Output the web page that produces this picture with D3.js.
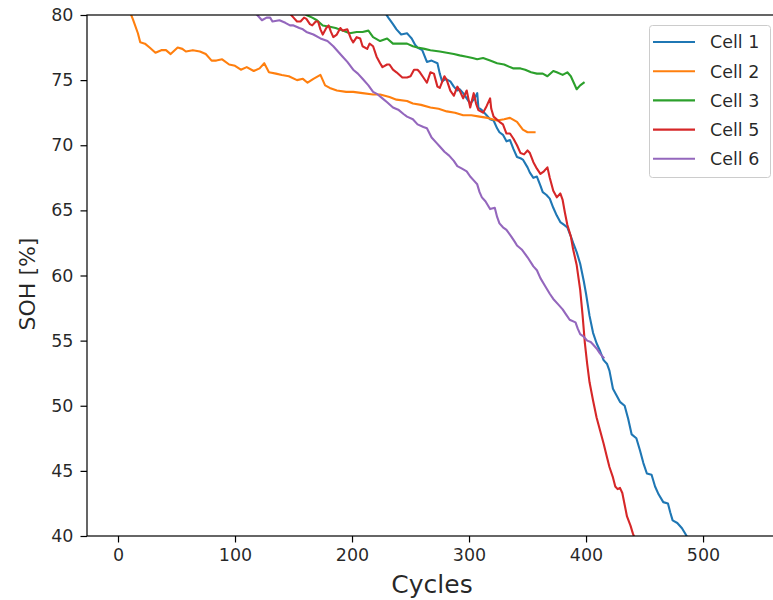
<!DOCTYPE html>
<html>
<head>
<meta charset="utf-8">
<script src="https://cdn.jsdelivr.net/npm/d3@7"></script>
<style>
  html, body { margin: 0; padding: 0; background: #fff; overflow: hidden; }
  svg { display: block; font-family: "DejaVu Sans", sans-serif; }
</style>
</head>
<body>
<svg id="chart" width="773" height="600"></svg>
<script>
// ---- data ----
const seriesNames = ["Cell 1", "Cell 2", "Cell 3", "Cell 5", "Cell 6"];
const seriesColors = ["#1f77b4", "#ff7f0e", "#2ca02c", "#d62728", "#9467bd"];
const xTicks = [0, 100, 200, 300, 400, 500];
const yTicks = [40, 45, 50, 55, 60, 65, 70, 75, 80];

const cell1Cycles = [226,231,235,238,242,247,249,251,254,256,260,264,268,273,275,277,280,284,287,290,292,295,298,301,304,307,308,311,315,318,321,324,326,329,332,335,338,341,344,346,350,352,355,358,361,363,366,369,372,375,378,381,384,387,389,392,395,398,400,403,406,409,412,415,418,420,423,426,429,433,436,439,443,446,449,452,456,459,462,466,470,472,474,478,482,486,490,495];
const cell1Soh = [80.5,79.8,79.3,78.9,78.5,78.6,78.4,78.2,77.7,77.5,77.3,76.4,76.5,76.3,75.5,74.9,75.1,74.9,74.5,74.2,74.3,74.0,73.6,73.2,73.5,74.0,72.9,72.7,72.3,72.0,71.9,71.3,71.0,70.8,70.3,70.4,69.7,69.1,69.0,68.9,68.3,67.9,67.5,67.6,66.9,66.4,66.2,65.9,65.2,64.6,64.1,63.9,63.7,63.0,62.5,61.8,60.9,59.6,58.6,56.9,55.6,54.8,54.2,53.5,53.2,52.7,51.3,50.8,50.3,50.0,49.0,47.8,47.5,46.6,45.6,44.8,44.7,43.8,43.2,42.6,42.5,41.8,41.2,41.0,40.6,40.0,39.5,39.0];

const cell2Cycles = [8,10,13,17,19,23,27,32,37,41,45,51,55,58,64,70,75,80,84,89,95,100,105,110,116,121,125,129,135,140,146,153,158,162,167,173,177,181,187,195,201,209,218,224,232,238,247,252,259,267,274,281,288,295,302,309,316,324,330,335,341,346,350,356];
const cell2Soh = [80.8,80.3,79.6,78.6,77.9,77.8,77.5,77.1,77.3,77.3,77.0,77.5,77.4,77.2,77.3,77.2,77.0,76.5,76.5,76.6,76.2,76.1,75.8,76.0,75.7,75.9,76.3,75.6,75.5,75.4,75.3,75.0,75.1,74.8,75.1,75.4,74.6,74.4,74.2,74.1,74.1,74.0,73.9,73.9,73.7,73.5,73.4,73.2,73.1,72.9,72.8,72.6,72.5,72.3,72.3,72.2,72.1,71.9,72.0,72.1,71.8,71.2,71.0,71.0];

const cell3Cycles = [155,161,166,170,175,181,186,192,198,204,209,214,218,224,230,235,241,247,252,256,262,267,275,281,287,292,298,303,307,312,318,324,330,335,338,344,348,353,358,363,367,372,375,380,384,387,390,392,395,398];
const cell3Soh = [80.5,80.0,79.8,79.6,79.2,79.1,79.0,78.8,78.6,78.7,78.7,78.8,78.3,78.0,78.2,77.8,77.8,77.8,77.6,77.5,77.4,77.3,77.2,77.1,77.0,76.9,76.8,76.7,76.6,76.7,76.5,76.3,76.2,76.0,75.9,75.9,75.8,75.6,75.5,75.5,75.3,75.7,75.6,75.4,75.6,75.3,74.7,74.3,74.6,74.8];

const cell5Cycles = [145,150,153,156,159,161,164,166,169,171,173,175,178,180,182,184,187,190,192,196,199,201,204,207,209,213,215,218,221,224,226,230,232,235,238,243,247,250,253,256,258,261,264,267,270,273,275,279,281,284,287,290,292,295,298,301,304,306,308,312,315,318,319,321,326,329,332,335,338,341,344,347,350,352,355,358,361,364,367,369,372,375,378,380,382,384,387,389,392,395,397,399,401,403,406,409,412,415,418,420,423,425,427,429,431,433,435,438,440,443,447];
const cell5Soh = [80.3,79.8,79.5,79.5,79.8,79.7,79.3,79.2,79.5,79.5,78.9,78.5,79.0,79.2,78.7,78.3,78.5,79.0,78.8,78.9,78.2,77.9,78.3,78.2,77.6,77.4,77.8,77.6,76.8,76.3,76.0,76.2,76.2,75.8,75.6,75.2,75.2,75.3,75.8,75.8,75.6,75.2,74.8,75.6,75.5,74.5,74.4,75.3,75.0,74.2,73.8,74.5,74.2,73.6,74.2,72.9,74.0,73.2,72.7,72.5,73.0,73.6,72.8,72.2,71.8,71.6,70.9,70.9,70.5,70.0,69.4,69.3,69.6,69.4,68.7,68.2,67.8,68.0,68.3,67.5,66.5,66.0,66.3,65.8,64.8,63.9,63.0,62.0,60.8,58.9,57.0,54.8,53.2,51.8,50.4,49.1,48.1,47.1,46.0,45.3,44.5,43.8,43.6,43.7,43.3,42.4,41.5,40.8,40.2,39.5,39.0];

const cell6Cycles = [115,119,123,127,130,132,138,143,147,150,155,158,161,167,173,179,184,188,192,196,201,205,209,214,218,222,226,230,235,240,244,247,252,256,261,264,268,272,275,279,283,287,290,294,298,301,304,307,309,311,314,318,322,324,326,329,332,336,339,341,345,350,355,358,361,365,369,372,376,380,383,386,391,393,395,398,401,404,406,409,412,415];
const cell6Soh = [80.3,80.0,79.6,79.8,79.8,79.5,79.6,79.4,79.2,79.2,79.0,78.9,78.7,78.5,78.2,78.0,77.6,77.2,76.8,76.4,75.8,75.5,75.1,74.6,74.1,73.9,73.6,73.3,72.9,72.7,72.4,72.2,72.0,71.6,71.4,71.3,70.6,70.2,69.9,69.5,69.2,68.8,68.4,68.2,68.0,67.6,67.3,67.0,66.4,66.0,65.7,65.1,65.2,64.5,64.0,63.7,63.5,63.0,62.6,62.3,62.0,61.4,60.7,60.4,59.8,59.2,58.6,58.2,57.8,57.4,57.0,56.6,56.4,55.9,55.5,55.3,55.0,54.9,54.7,54.4,54.0,53.7];

const seriesCycles = [cell1Cycles, cell2Cycles, cell3Cycles, cell5Cycles, cell6Cycles];
const seriesSoh = [cell1Soh, cell2Soh, cell3Soh, cell5Soh, cell6Soh];

// ---- layout ----
const M = { left: 87, right: 777, top: 15, bottom: 536 };
const svg = d3.select("#chart");

const x = d3.scaleLinear().domain([-26.5, 563.2]).range([M.left, M.right]);
const y = d3.scaleLinear().domain([40, 80]).range([M.bottom, M.top]);

svg.append("defs").append("clipPath").attr("id", "plotclip")
  .append("rect").attr("x", M.left).attr("y", M.top).attr("width", M.right - M.left).attr("height", M.bottom - M.top);

// lines
const line = d3.line().x(d => x(d[0])).y(d => y(d[1]));
const plot = svg.append("g").attr("clip-path", "url(#plotclip)");
seriesNames.forEach((name, i) => {
  const pts = seriesCycles[i].map((c, j) => [c, seriesSoh[i][j]]);
  plot.append("path").datum(pts)
    .attr("d", line)
    .attr("fill", "none")
    .attr("stroke", seriesColors[i])
    .attr("stroke-width", 2.1)
    .attr("stroke-linejoin", "round")
    .attr("stroke-linecap", "square");
});

// axes
const tickFont = 17.5;
const xAxis = svg.append("g").attr("transform", `translate(0,${M.bottom})`)
  .call(d3.axisBottom(x).tickValues(xTicks).tickSize(6.5).tickPadding(6).tickFormat(d3.format("d")));
const yAxis = svg.append("g").attr("transform", `translate(${M.left},0)`)
  .call(d3.axisLeft(y).tickValues(yTicks).tickSize(6.5).tickPadding(7).tickFormat(d3.format("d")));
[xAxis, yAxis].forEach(a => {
  a.select(".domain").remove();
  a.selectAll(".tick line").attr("stroke", "#000").attr("stroke-width", 1.2);
  a.selectAll(".tick text").attr("fill", "#000").attr("font-size", tickFont)
    .attr("font-family", "DejaVu Sans, sans-serif").attr("fill-opacity", 0.85);
});

// spines
svg.append("rect").attr("x", M.left).attr("y", M.top).attr("width", M.right - M.left).attr("height", M.bottom - M.top)
  .attr("fill", "none").attr("stroke", "#000").attr("stroke-width", 1.2);

// axis labels
svg.append("text").attr("x", (M.left + M.right) / 2).attr("y", 593)
  .attr("text-anchor", "middle").attr("font-size", 25).attr("fill", "#000").attr("fill-opacity", 0.85)
  .text("Cycles");
svg.append("text").attr("transform", `translate(35,284) rotate(-90)`)
  .attr("text-anchor", "middle").attr("font-size", 22).attr("fill", "#000").attr("fill-opacity", 0.85)
  .text("SOH [%]");

// legend
const lg = svg.append("g");
lg.append("rect").attr("x", 649.5).attr("y", 25.5).attr("width", 121).attr("height", 152)
  .attr("rx", 3).attr("fill", "#fff").attr("fill-opacity", 0.8).attr("stroke", "#cccccc").attr("stroke-width", 1);
seriesNames.forEach((name, i) => {
  const yy = 42 + i * 29.2;
  lg.append("line").attr("x1", 653).attr("x2", 695).attr("y1", yy).attr("y2", yy)
    .attr("stroke", seriesColors[i]).attr("stroke-width", 2.1);
  lg.append("text").attr("x", 710).attr("y", yy + 6.3).attr("font-size", 17.5)
    .attr("fill", "#000").attr("fill-opacity", 0.85).text(name);
});
</script>
</body>
</html>
